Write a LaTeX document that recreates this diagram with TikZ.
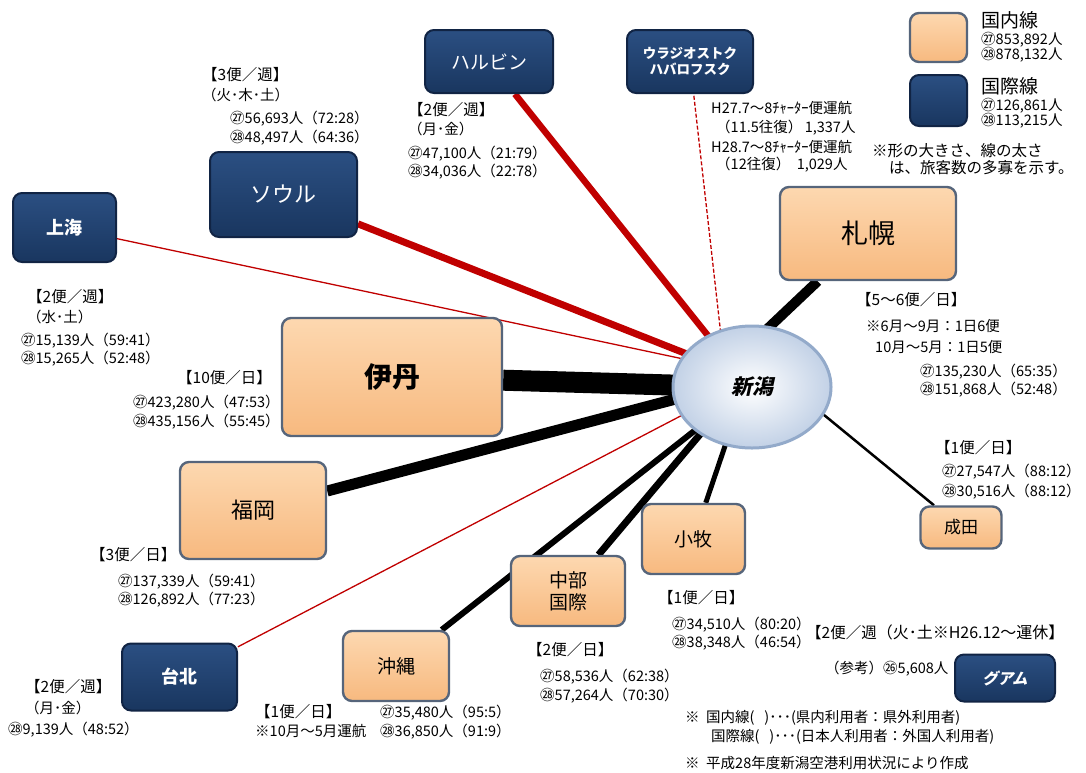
\documentclass[tikz,border=0pt]{standalone}
\usepackage{fontspec}
\setmainfont{Noto Sans CJK JP}
\newfontfamily\jpslant[FakeSlant=0.22]{Noto Sans CJK JP}
\usetikzlibrary{shapes.geometric,backgrounds}
\definecolor{domtop}{HTML}{FDD8B0}
\definecolor{dombot}{HTML}{F7B97F}
\definecolor{domline}{HTML}{56657B}
\definecolor{inttop}{HTML}{2B4F82}
\definecolor{intbot}{HTML}{19365F}
\definecolor{intline}{HTML}{112444}
\definecolor{redline}{HTML}{C00000}
\definecolor{elline}{HTML}{93AACA}
\definecolor{elout}{HTML}{C2D1E6}
\tikzset{
  dombox/.style={draw=domline, line width=2.4pt, rounded corners=9pt, top color=domtop, bottom color=dombot, inner sep=0pt, align=center, text=black},
  intbox/.style={draw=intline, line width=2pt, rounded corners=9pt, top color=inttop, bottom color=intbot, inner sep=0pt, align=center, text=white},
  lbl/.style={anchor=west, inner sep=0pt, font=\fontsize{14.5}{16}\selectfont},
  hd/.style={anchor=west, inner sep=0pt, font=\fontsize{15.5}{17}\selectfont},
  dline/.style={line width=#1, black},
  rline/.style={line width=#1, redline},
}
\begin{document}
\begin{tikzpicture}[x=1pt,y=-1pt]
\useasboundingbox (0,0) rectangle (1086,772);
% hub
\node[ellipse, draw=elline, line width=3pt, inner color=white, outer color=elout, minimum width=158pt, minimum height=122pt, font=\fontsize{21}{23}\selectfont\jpslant\bfseries] (niigata) at (752,387) {新潟};
% international
\node[intbox, minimum width=128pt, minimum height=63pt, font=\fontsize{19}{21}\selectfont] (harbin) at (489,61.5) {ハルビン};
\node[intbox, minimum width=126pt, minimum height=63pt, font=\fontsize{13.5}{16}\selectfont\bfseries] (vlad) at (690,61.5) {ウラジオストク\\ハバロフスク};
\node[intbox, minimum width=147pt, minimum height=85pt, font=\fontsize{22}{24}\selectfont] (seoul) at (283.5,194.5) {ソウル};
\node[intbox, minimum width=103pt, minimum height=69pt, font=\fontsize{18}{20}\selectfont\bfseries] (shanghai) at (64.5,227.5) {上海};
\node[intbox, minimum width=115pt, minimum height=67pt, font=\fontsize{18}{20}\selectfont\bfseries] (taipei) at (179.5,677) {台北};
\node[intbox, minimum width=100pt, minimum height=47pt, font=\fontsize{15.5}{17}\selectfont\jpslant\bfseries] (guam) at (1005,678) {グアム};
% domestic
\node[dombox, minimum width=176pt, minimum height=93pt, font=\fontsize{27}{29}\selectfont] (sapporo) at (868,233.5) {札幌};
\node[dombox, minimum width=220pt, minimum height=118pt, font=\fontsize{28}{30}\selectfont\bfseries] (itami) at (392,377) {伊丹};
\node[dombox, minimum width=146pt, minimum height=97pt, font=\fontsize{22}{24}\selectfont] (fukuoka) at (253,510.5) {福岡};
\node[dombox, minimum width=81pt, minimum height=42pt, font=\fontsize{17}{19}\selectfont] (narita) at (961,527.5) {成田};
\node[dombox, minimum width=103pt, minimum height=70pt, font=\fontsize{19}{21}\selectfont] (komaki) at (693.5,539) {小牧};
\node[dombox, minimum width=114pt, minimum height=70pt, font=\fontsize{19}{22}\selectfont] (chubu) at (568,591) {中部\\国際};
\node[dombox, minimum width=106pt, minimum height=70pt, font=\fontsize{19}{21}\selectfont] (okinawa) at (396,666) {沖縄};
% legend
\node[dombox, minimum width=57pt, minimum height=49pt] (legdom) at (938.5,37.5) {};
\node[intbox, minimum width=57pt, minimum height=51pt] (legint) at (938.5,100.5) {};
% connector ends inside the hub
\coordinate (eHarbin) at (749,387);
\coordinate (eVlad) at (726,380);
\coordinate (eSeoul) at (740,375);
\coordinate (eShanghai) at (740,371);
\coordinate (eTaipei) at (740,385);
\coordinate (eSapporo) at (745,350);
\coordinate (eItami) at (740,387);
\coordinate (eFukuoka) at (740,382);
\coordinate (eNarita) at (790,387);
\coordinate (eKomaki) at (745,387);
\coordinate (eChubu) at (740,387);
\coordinate (eOkinawa) at (750,387);
\begin{scope}[on background layer]
\draw[rline=6.5pt] (eHarbin) -- (harbin);
\draw[rline=1.3pt, dash pattern=on 4pt off 2pt] (eVlad) -- (vlad);
\draw[rline=7pt] (eSeoul) -- (seoul);
\draw[rline=1.3pt] (eShanghai) -- (shanghai);
\draw[rline=1.3pt] (eTaipei) -- (taipei);
\draw[dline=10pt] (eSapporo) -- (sapporo);
\draw[dline=21pt] (eItami) -- (itami);
\draw[dline=11pt] (eFukuoka) -- (fukuoka);
\draw[dline=2.5pt] (eNarita) -- (narita);
\draw[dline=5pt] (eKomaki) -- (komaki);
\draw[dline=7pt] (eChubu) -- (chubu);
\draw[dline=6pt] (eOkinawa) -- (okinawa);
\end{scope}
% legend texts
\node[lbl, font=\fontsize{19}{21}\selectfont] (tdom) at (981,20) {国内線};
\node[lbl] (tdom27) at (981,40) {㉗853,892人};
\node[lbl] (tdom28) at (981,55) {㉘878,132人};
\node[lbl, font=\fontsize{19}{21}\selectfont] (tint) at (981,86) {国際線};
\node[lbl] (tint27) at (981,106) {㉗126,861人};
\node[lbl] (tint28) at (981,121) {㉘113,215人};
\node[lbl, font=\fontsize{15.5}{17}\selectfont] (tnote1) at (872,151) {※形の大きさ、線の太さ};
\node[lbl, font=\fontsize{15.5}{17}\selectfont] (tnote2) at (889,168) {は、旅客数の多寡を示す。};
% Seoul
\node[hd] (s1) at (202,75) {【3便／週】};
\node[lbl] (s2) at (202,95) {（火･木･土）};
\node[lbl] (s3) at (230,119) {㉗56,693人（72:28）};
\node[lbl] (s4) at (230,138) {㉘48,497人（64:36）};
% Harbin
\node[hd] (h1) at (408,110) {【2便／週】};
\node[lbl] (h2) at (408,129) {（月･金）};
\node[lbl] (h3) at (408,154) {㉗47,100人（21:79）};
\node[lbl] (h4) at (408,172) {㉘34,036人（22:78）};
% Vladivostok
\node[lbl] (v1) at (711,108) {H27.7～8ﾁｬｰﾀｰ便運航};
\node[lbl] (v2) at (716,128) {（11.5往復）\,1,337人};
\node[lbl] (v3) at (711,147) {H28.7～8ﾁｬｰﾀｰ便運航};
\node[lbl] (v4) at (716,165) {（12往復）\ \ 1,029人};
% Shanghai
\node[hd] (c1) at (27,297) {【2便／週】};
\node[lbl] (c2) at (27,317) {（水･土）};
\node[lbl] (c3) at (21,341) {㉗15,139人（59:41）};
\node[lbl] (c4) at (21,359) {㉘15,265人（52:48）};
% Itami
\node[hd] (i1) at (177,378) {【10便／日】};
\node[lbl] (i2) at (133,403) {㉗423,280人（47:53）};
\node[lbl] (i3) at (133,422) {㉘435,156人（55:45）};
% Sapporo
\node[hd] (p1) at (856,300) {【5～6便／日】};
\node[lbl] (p2) at (866,326) {※6月～9月：1日6便};
\node[lbl] (p3) at (875,347) {10月～5月：1日5便};
\node[lbl] (p4) at (920,372) {㉗135,230人（65:35）};
\node[lbl] (p5) at (920,390) {㉘151,868人（52:48）};
% Narita
\node[hd] (n1) at (935,448) {【1便／日】};
\node[lbl] (n2) at (942,472) {㉗27,547人（88:12）};
\node[lbl] (n3) at (942,492) {㉘30,516人（88:12）};
% Fukuoka
\node[hd] (f1) at (90,555) {【3便／日】};
\node[lbl] (f2) at (118,582) {㉗137,339人（59:41）};
\node[lbl] (f3) at (118,600) {㉘126,892人（77:23）};
% Taipei
\node[hd] (t1) at (25,687) {【2便／週】};
\node[lbl] (t2) at (25,708) {（月･金）};
\node[lbl] (t3) at (8,730) {㉘9,139人（48:52）};
% Okinawa
\node[hd] (o1) at (255,712) {【1便／日】};
\node[lbl] (o2) at (255,731) {※10月～5月運航};
\node[lbl] (o3) at (380,713) {㉗35,480人（95:5）};
\node[lbl] (o4) at (380,732) {㉘36,850人（91:9）};
% Chubu
\node[hd] (u1) at (527,650) {【2便／日】};
\node[lbl] (u2) at (540,677) {㉗58,536人（62:38）};
\node[lbl] (u3) at (540,696) {㉘57,264人（70:30）};
% Komaki
\node[hd] (k1) at (658,598) {【1便／日】};
\node[lbl] (k2) at (672,625) {㉗34,510人（80:20）};
\node[lbl] (k3) at (672,643) {㉘38,348人（46:54）};
% Guam
\node[hd] (g1) at (806,632) {【2便／週{\fontsize{16}{18}\selectfont（火･土※H26.12～運休】}};
\node[lbl] (g2) at (825,669) {（参考）㉖5,608人};
% notes
\node[lbl] (m1) at (685,718) {※\ \ 国内線(\ \ \ )･･･(県内利用者：県外利用者)};
\node[lbl] (m2) at (711,737) {国際線(\ \ \ )･･･(日本人利用者：外国人利用者)};
\node[lbl] (m3) at (685,763) {※\ \ 平成28年度新潟空港利用状況により作成};
\end{tikzpicture}
\end{document}
